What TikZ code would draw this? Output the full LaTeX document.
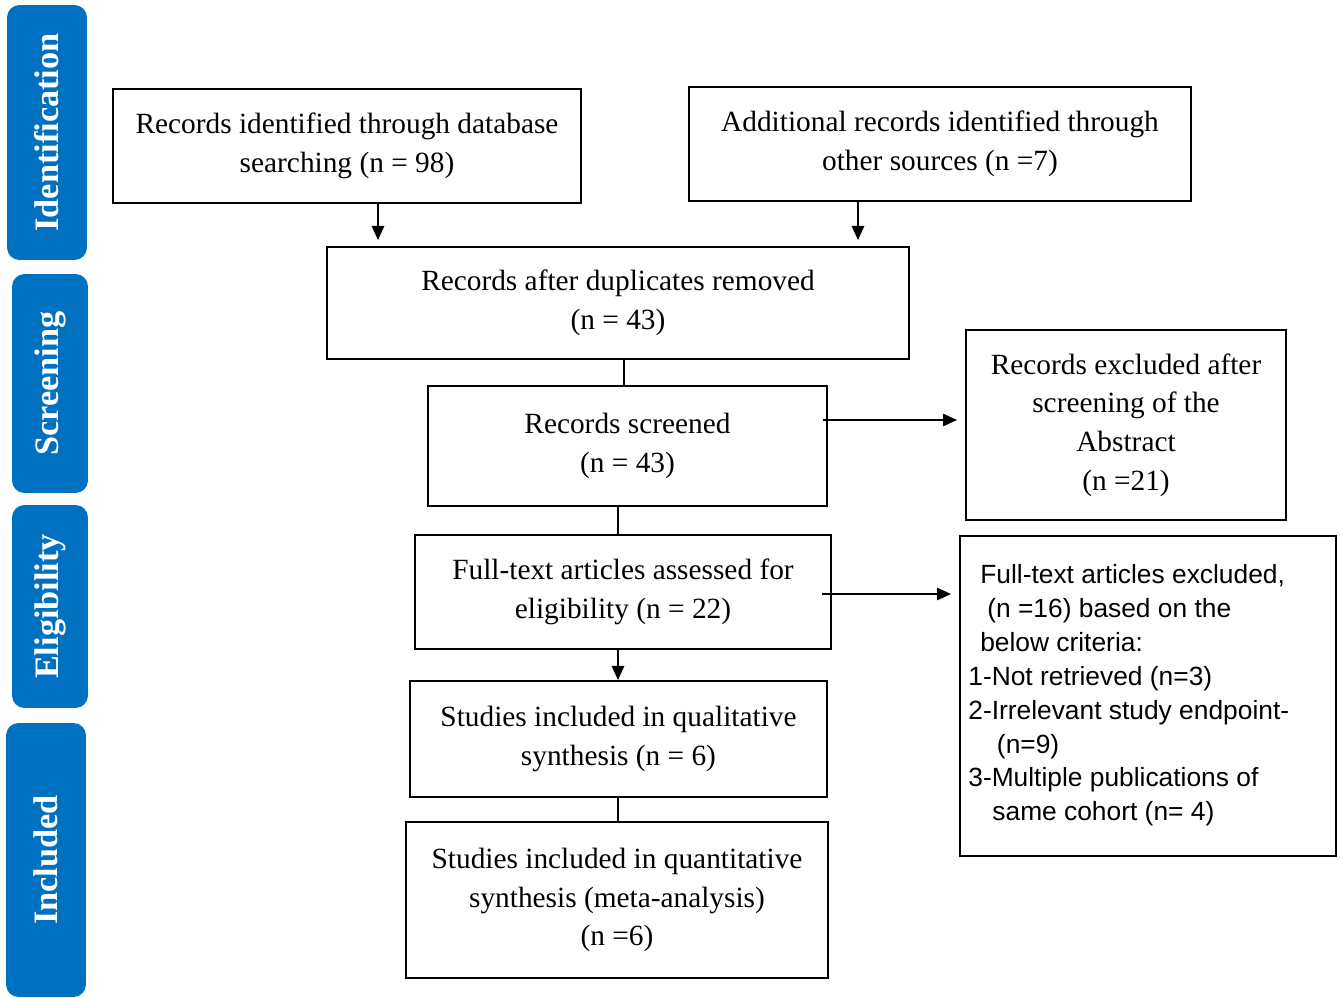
\documentclass[tikz,border=0pt]{standalone}
\usepackage{fontspec}
\setmainfont{Liberation Serif}
\newfontfamily\sansf{Liberation Sans}
\usetikzlibrary{arrows.meta,calc}
\definecolor{barblue}{HTML}{0070C0}
\begin{document}
\begin{tikzpicture}[x=0.02cm,y=-0.02cm,
  box/.style={draw=black, line width=1.1pt, inner sep=0pt, align=center, font=\fontsize{16.7}{22}\selectfont},
  bar/.style={fill=barblue, rounded corners=0.25cm, rotate=90, inner sep=0pt, text=white, font=\fontsize{19.5}{22}\selectfont\bfseries},
  link/.style={line width=1.1pt},
  arr/.style={line width=1.1pt, -{Triangle[length=8pt,width=7pt]}},
]
\useasboundingbox (0,0) rectangle (1340,998);

% side bars
\node[bar, minimum width=5.1cm, minimum height=1.6cm] (bid) at (47,132.5) {Identification};
\node[bar, minimum width=4.38cm, minimum height=1.52cm] (bsc) at (50,383.5) {Screening};
\node[bar, minimum width=4.06cm, minimum height=1.52cm] (bel) at (50,606.5) {Eligibility};
\node[bar, minimum width=5.48cm, minimum height=1.6cm] (bin) at (46,860) {Included};

% boxes
\node[box, minimum width=9.36cm, minimum height=2.28cm] (A) at (347,146) {Records identified through database\\searching (n = 98)};
\node[box, minimum width=10.04cm, minimum height=2.28cm] (B) at (940,144) {Additional records identified through\\other sources (n =7)};
\node[box, minimum width=11.64cm, minimum height=2.24cm] (C) at (618,303) {Records after duplicates removed\\(n = 43)};
\node[box, minimum width=7.98cm, minimum height=2.40cm] (D) at (627.5,446) {Records screened\\(n = 43)};
\node[box, minimum width=6.40cm, minimum height=3.80cm] (E) at (1126,425) {Records excluded after\\screening of the\\Abstract\\(n =21)};
\node[box, minimum width=8.32cm, minimum height=2.28cm] (F) at (623,592) {Full-text articles assessed for\\eligibility (n = 22)};
\node[box, minimum width=7.52cm, minimum height=6.40cm] (G) at (1148,696) {};
\node[anchor=north west, inner sep=0pt, align=left, font=\sansf\fontsize{15}{19.3}\selectfont] (Gt) at (968,564)
  {\hspace*{6.8pt}Full-text articles excluded,\\
   \hspace*{10.8pt}(n =16) based on the\\
   \hspace*{6.8pt}below criteria:\\
   1-Not retrieved (n=3)\\
   2-Irrelevant study endpoint-\\
   \hspace*{16.3pt}(n=9)\\
   3-Multiple publications of\\
   \hspace*{13.7pt}same cohort (n= 4)};
\node[box, minimum width=8.34cm, minimum height=2.32cm] (H) at (618.5,739) {Studies included in qualitative\\synthesis (n = 6)};
\node[box, minimum width=8.44cm, minimum height=3.12cm] (I) at (617,900) {Studies included in quantitative\\synthesis (meta-analysis)\\(n =6)};

% connectors
\coordinate (xa) at (378,0);
\coordinate (xb) at (858,0);
\coordinate (xc) at (624,0);
\coordinate (xf) at (618,0);
\coordinate (yd) at (0,420);
\coordinate (yf) at (0,594);
\draw[arr, shorten >=0.12cm] (xa |- A.south) -- (xa |- C.north);
\draw[arr, shorten >=0.12cm] (xb |- B.south) -- (xb |- C.north);
\draw[link] (xc |- C.south) -- (xc |- D.north);
\draw[link] (xf |- D.south) -- (xf |- F.north);
\draw[arr] (xf |- F.south) -- (xf |- H.north);
\draw[link] (xf |- H.south) -- (xf |- I.north);
\draw[arr, shorten >=0.16cm] ($(D.east |- yd)+(-5,0)$) -- (E.west |- yd);
\draw[arr, shorten >=0.16cm] ($(F.east |- yf)+(-10,0)$) -- (G.west |- yf);
\end{tikzpicture}
\end{document}
